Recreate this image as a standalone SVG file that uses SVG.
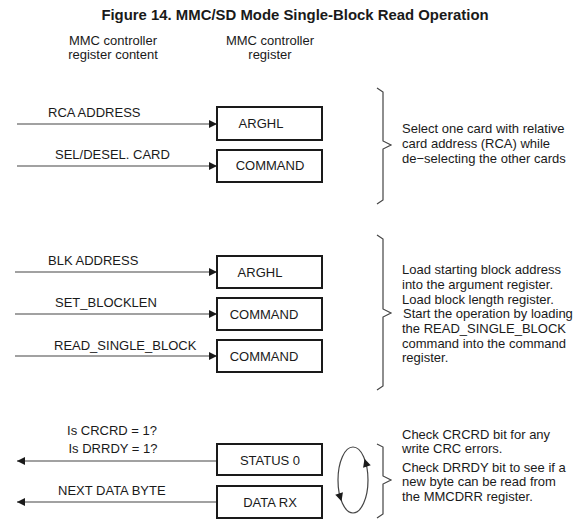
<svg xmlns="http://www.w3.org/2000/svg" width="579" height="522" viewBox="0 0 579 522">
<style>
text{font-family:"Liberation Sans",Arial,sans-serif;font-size:13px;fill:#1a1a1a}
.title{font-weight:bold;font-size:14.9px}
.mid{text-anchor:middle}
.box{fill:#fff;stroke:#1a1a1a;stroke-width:2}
.con{stroke:#444;stroke-width:1.2;fill:none}
.brace{stroke:#444;stroke-width:1.2;fill:none}
</style>
<defs>
<marker id="ah" viewBox="0 0 8 8" refX="8" refY="4" markerWidth="8" markerHeight="8" markerUnits="userSpaceOnUse" orient="auto">
<path d="M0,0 L8,4 L0,8 Z" fill="#1a1a1a"/>
</marker>
</defs>
<rect width="579" height="522" fill="#fff"/>
<text class="title mid" x="295" y="20">Figure 14. MMC/SD Mode Single-Block Read Operation</text>
<g id="headers">
<text class="mid" x="113" y="45">MMC controller</text>
<text class="mid" x="113" y="59">register content</text>
<text class="mid" x="270" y="45">MMC controller</text>
<text class="mid" x="270" y="59">register</text>
</g>
<g id="connectors">
<line class="con" x1="17" y1="124" x2="217" y2="124" marker-end="url(#ah)"/>
<line class="con" x1="17" y1="166" x2="217" y2="166" marker-end="url(#ah)"/>
<line class="con" x1="15" y1="272" x2="217" y2="272" marker-end="url(#ah)"/>
<line class="con" x1="15" y1="314" x2="217" y2="314" marker-end="url(#ah)"/>
<line class="con" x1="15" y1="356" x2="217" y2="356" marker-end="url(#ah)"/>
<line class="con" x1="217" y1="461" x2="17" y2="461" marker-end="url(#ah)"/>
<line class="con" x1="217" y1="502" x2="17" y2="502" marker-end="url(#ah)"/>
<ellipse class="con" cx="353" cy="480" rx="15" ry="33"/>
<path d="M0,0 L-8,-4 L-8,4 Z" fill="#1a1a1a" transform="translate(364.5,458.8) rotate(-107.5)"/>
<path d="M0,0 L-8,-4 L-8,4 Z" fill="#1a1a1a" transform="translate(341.5,501.2) rotate(72.5)"/>
</g>
<g id="labels">
<text x="48" y="117">RCA ADDRESS</text>
<text x="55" y="159">SEL/DESEL. CARD</text>
<text x="48" y="265">BLK ADDRESS</text>
<text x="55" y="307">SET_BLOCKLEN</text>
<text x="54" y="350">READ_SINGLE_BLOCK</text>
<text class="mid" x="112" y="435">Is CRCRD = 1?</text>
<text class="mid" x="113" y="453">Is DRRDY = 1?</text>
<text x="58" y="495">NEXT DATA BYTE</text>
</g>
<g id="node-arghl-1"><rect class="box" x="217" y="107" width="105" height="33"/><text class="mid" x="261" y="128">ARGHL</text></g>
<g id="node-command-1"><rect class="box" x="217" y="150" width="105" height="32"/><text class="mid" x="270" y="170">COMMAND</text></g>
<g id="node-arghl-2"><rect class="box" x="217" y="256" width="105" height="32"/><text class="mid" x="260" y="277">ARGHL</text></g>
<g id="node-command-2"><rect class="box" x="217" y="298" width="105" height="32"/><text class="mid" x="264" y="319">COMMAND</text></g>
<g id="node-command-3"><rect class="box" x="217" y="340" width="105" height="32"/><text class="mid" x="264" y="361">COMMAND</text></g>
<g id="node-status0"><rect class="box" x="217" y="444" width="105" height="31"/><text class="mid" x="270" y="465">STATUS 0</text></g>
<g id="node-datarx"><rect class="box" x="217" y="486" width="105" height="32"/><text class="mid" x="270" y="507">DATA RX</text></g>
<g id="braces">
<path class="brace" d="M377,88 L383,92 L383,141 L391,145 L383,149 L383,200 L377,204"/>
<path class="brace" d="M377,235 L383,239 L383,309 L391,313 L383,317 L383,386 L377,390"/>
<path class="brace" d="M377,444 L383,447 L383,476 L391,480 L383,484 L383,514 L377,518"/>
</g>
<g id="notes">
<text x="402" y="133">Select one card with relative</text>
<text x="402" y="148">card address (RCA) while</text>
<text x="402" y="163">de−selecting the other cards</text>
<text x="402" y="274">Load starting block address</text>
<text x="402" y="289">into the argument register.</text>
<text x="402" y="304">Load block length register.</text>
<text x="403" y="318">Start the operation by loading</text>
<text x="402" y="333">the READ_SINGLE_BLOCK</text>
<text x="402" y="348">command into the command</text>
<text x="402" y="362">register.</text>
<text x="402" y="439">Check CRCRD bit for any</text>
<text x="402" y="453">write CRC errors.</text>
<text x="402" y="472">Check DRRDY bit to see if a</text>
<text x="402" y="486">new byte can be read from</text>
<text x="402" y="501">the MMCDRR register.</text>
</g>
</svg>
